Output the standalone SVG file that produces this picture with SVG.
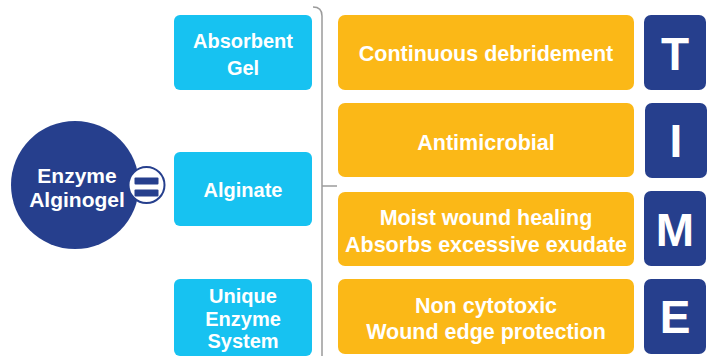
<svg xmlns="http://www.w3.org/2000/svg" width="716" height="356" viewBox="0 0 716 356">
<style>
.cy{fill:#17C2F1}
.or{fill:#FBB817}
.db{fill:#263F8D}
.t{font-family:"Liberation Sans",Arial,sans-serif;font-weight:bold;fill:#fff;text-anchor:middle}
.s20{font-size:20px}
.s21{font-size:21.5px}
.s22{font-size:21px}
.big{font-size:46px}
.ln{fill:none;stroke:#9b9b9b;stroke-width:1.5}
</style>
<rect width="716" height="356" fill="#fff"/>
<g id="connectors">
<path class="ln" d="M313,7 Q322,7 322,16 V356"/>
<path class="ln" d="M322,186 H337"/>
</g>
<g id="enzyme-alginogel">
<circle class="db" cx="75" cy="185" r="64"/>
<text class="t s22" x="77" y="183">Enzyme</text>
<text class="t s22" x="77" y="207">Alginogel</text>
</g>
<g id="equals">
<circle cx="146.5" cy="185" r="18" fill="#fff" stroke="#263F8D" stroke-width="2"/>
<rect class="db" x="134.5" y="177.5" width="24" height="7" rx="1"/>
<rect class="db" x="134.5" y="189.5" width="24" height="7" rx="1"/>
</g>
<g id="absorbent-gel">
<rect class="cy" x="174" y="15" width="138" height="75" rx="6"/>
<text class="t s20" x="243" y="48">Absorbent</text>
<text class="t s20" x="243" y="75">Gel</text>
</g>
<g id="alginate">
<rect class="cy" x="174" y="152" width="138" height="74" rx="6"/>
<text class="t s20" x="243" y="197">Alginate</text>
</g>
<g id="unique-enzyme-system">
<rect class="cy" x="174" y="279" width="138" height="77" rx="6"/>
<text class="t s20" x="243" y="303">Unique</text>
<text class="t s20" x="243" y="326">Enzyme</text>
<text class="t s20" x="243" y="348">System</text>
</g>
<g id="continuous-debridement">
<rect class="or" x="338" y="15" width="296" height="75" rx="7"/>
<text class="t s21" x="486" y="61">Continuous debridement</text>
</g>
<g id="antimicrobial">
<rect class="or" x="338" y="103" width="296" height="74" rx="7"/>
<text class="t s21" x="486" y="150">Antimicrobial</text>
</g>
<g id="moist">
<rect class="or" x="338" y="192" width="296" height="74" rx="7"/>
<text class="t s21" x="486" y="225">Moist wound healing</text>
<text class="t s21" x="486" y="252">Absorbs excessive exudate</text>
</g>
<g id="non-cytotoxic">
<rect class="or" x="338" y="279" width="296" height="75" rx="7"/>
<text class="t s21" x="486" y="313">Non cytotoxic</text>
<text class="t s21" x="486" y="339">Wound edge protection</text>
</g>
<g id="T">
<rect class="db" x="644" y="15" width="62" height="75" rx="7"/>
<text class="t big" x="675" y="70">T</text>
</g>
<g id="I">
<rect class="db" x="645" y="103" width="62" height="75" rx="7"/>
<text class="t big" x="676" y="157">I</text>
</g>
<g id="M">
<rect class="db" x="644" y="191" width="62" height="75" rx="7"/>
<text class="t big" x="675" y="246">M</text>
</g>
<g id="E">
<rect class="db" x="644" y="279" width="62" height="75" rx="7"/>
<text class="t big" x="675" y="333">E</text>
</g>
</svg>
